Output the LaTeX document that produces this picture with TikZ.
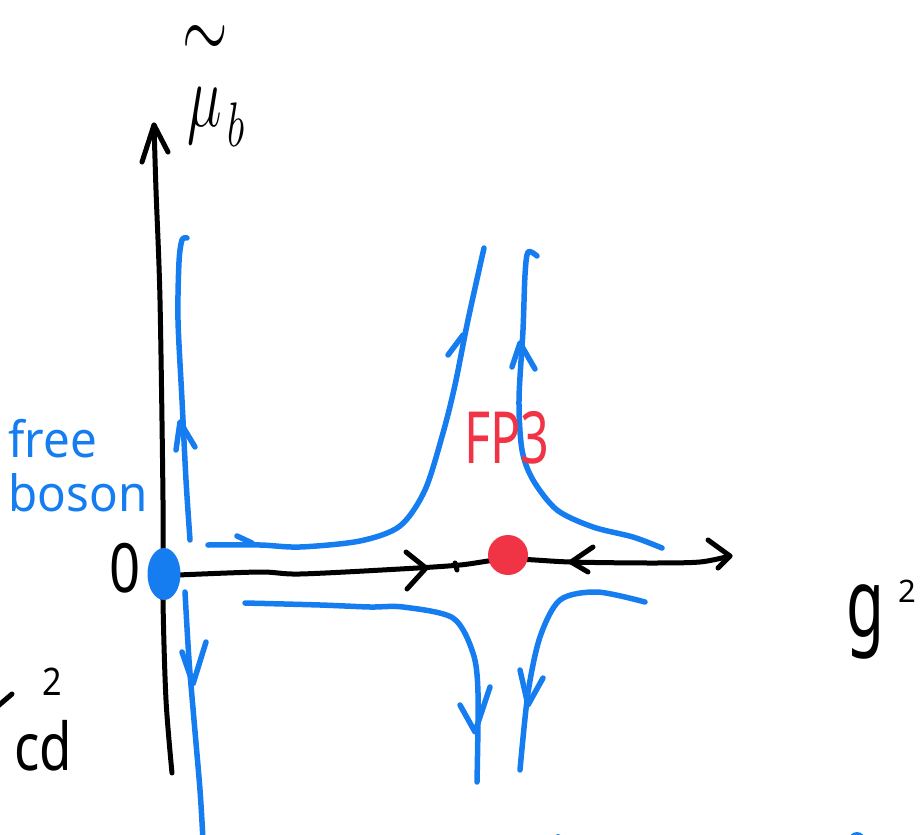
\RequirePackage{fix-cm}
\documentclass[tikz,border=0pt]{standalone}
\usepackage{amsmath}
\usepackage{fontspec}
\setmainfont{Noto Sans}
\usetikzlibrary{shapes.geometric}
\definecolor{flowblue}{RGB}{22,125,240}
\definecolor{fpred}{RGB}{240,52,70}
\begin{document}
\begin{tikzpicture}[x=1pt,y=-1pt,
  ax/.style={line width=5pt,line cap=round,line join=round,black},
  flow/.style={line width=5.5pt,line cap=round,line join=round,flowblue},
  lbl/.style={inner sep=0pt,outer sep=0pt}]
\useasboundingbox (0,0) rectangle (922,835);
\clip (0,0) rectangle (922,835);
% axes
\coordinate (ytop) at (154,125);
\coordinate (ybot) at (172,773);
\coordinate (xleft) at (178,575);
\coordinate (xright) at (730,556);
\draw[ax] plot[smooth] coordinates {(ybot) (166,700) (163,600) (163,500) (160,300) (156,190) (ytop)};
\draw[ax] (142,162) -- (ytop) -- (168,152);
\draw[ax] plot[smooth] coordinates {(xleft) (260,572) (300,574) (400,569) (460,565) (508,559) (570,562) (650,563) (700,562) (xright)};
\draw[ax] (708,540) -- (xright) -- (718,568);
\draw[ax] (406,552) -- (426,568) -- (407,589);
\draw[ax] (455,563) -- (457,570);
\draw[ax] (593,547) -- (571,562) -- (588,572);
% left vertical flows
\draw[flow] plot[smooth] coordinates {(190,540) (186,480) (182,400) (178,320) (179,262) (182,240) (187,238)};
\draw[flow] (176,450) -- (180,422) -- (195,447);
\draw[flow] plot[smooth] coordinates {(185,592) (189,660) (194,720) (200,790) (203,840)};
\draw[flow] (182,652) -- (193,684) -- (206,642);
% upper left hyperbola
\draw[flow] plot[smooth] coordinates {(208,545) (260,545) (300,547) (360,541) (400,526) (425,490) (443,433) (455,385) (468,320) (484,248)};
\draw[flow] (448,355) -- (463,335);
\draw[flow] (237,536) -- (252,543);
% upper right hyperbola
\draw[flow] plot[smooth] coordinates {(537,256) (528,252) (525,275) (523,330) (519,400) (522,450) (533,480) (557,510) (593,527) (633,537) (662,548)};
\draw[flow] (512,367) -- (520,343) -- (535,369);
% lower left hyperbola
\draw[flow] plot[smooth] coordinates {(245,603) (320,605) (370,607) (403,607) (453,618) (473,653) (478,693) (477,782)};
\draw[flow] (460,705) -- (475,732) -- (490,687);
% lower right hyperbola
\draw[flow] plot[smooth] coordinates {(645,602) (597,592) (560,600) (540,637) (528,693) (520,770)};
\draw[flow] (520,670) -- (528,705) -- (543,678);
% bottom edge marks
\fill[flowblue] (558,838) circle (4);
\fill[flowblue] (857,840) circle (8);
% fixed points
\node[circle,fill=fpred,minimum size=40pt,inner sep=0pt] (fp3) at (508,555) {};
\node[ellipse,fill=flowblue,minimum width=33pt,minimum height=52pt,inner sep=0pt] (fb0) at (164,574) {};
% labels
\node[lbl,font=\fontsize{90}{90}\selectfont,xscale=0.65,anchor=base west] (mulbl) at (182,126) {$\overset{\textstyle\sim}{\vphantom{l}\mu}_b$};
\node[lbl,text=flowblue,font=\fontsize{50}{54}\selectfont,align=left,xscale=0.95] (fblbl) at (78,466) {free\\boson};
\node[lbl,font=\fontsize{68}{68}\selectfont,xscale=0.8] (zero) at (125,568) {0};
\node[lbl,text=fpred,font=\fontsize{72}{72}\selectfont,xscale=0.7] (fplbl) at (507,438) {FP3};
\node[lbl,font=\fontsize{95}{95}\selectfont,xscale=0.65,anchor=base west] (glbl) at (846,636) {g};
\node[lbl,font=\fontsize{31}{31}\selectfont,anchor=base west] (gsq) at (898,602) {2};
\node[lbl,font=\fontsize{66}{66}\selectfont,xscale=0.8,anchor=base west] (cdlbl) at (14,770) {cd};
\node[lbl,font=\fontsize{38}{38}\selectfont,xscale=0.9] (cdsq) at (52,682) {2};
\draw[ax] (-2,706) -- (12,694);
\end{tikzpicture}
\end{document}
